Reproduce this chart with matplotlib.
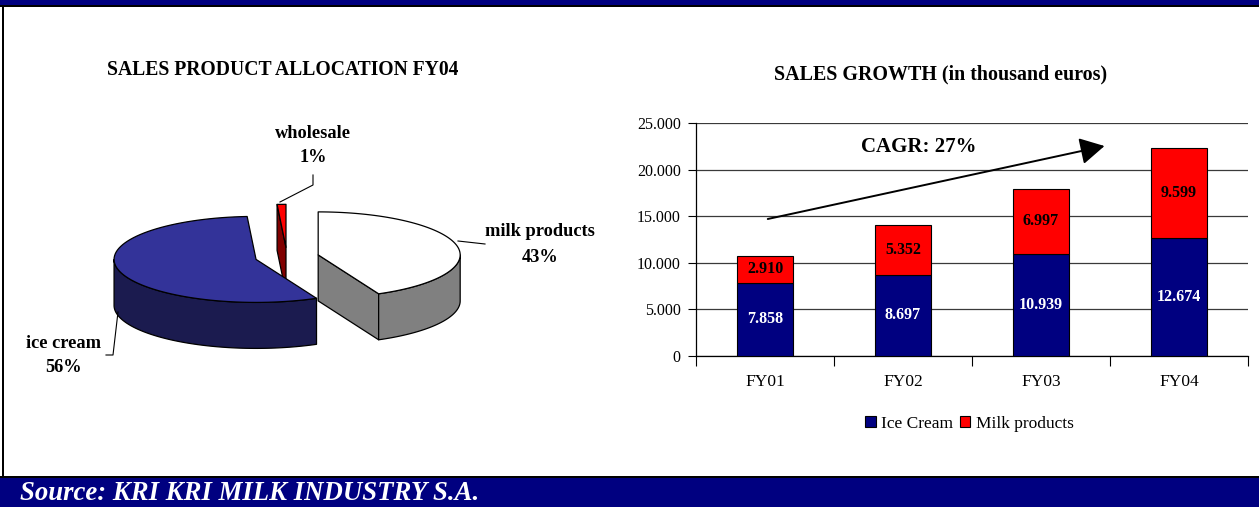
import matplotlib
matplotlib.use('Agg')
import matplotlib.pyplot as plt
import numpy as np
from matplotlib.patches import Polygon, Rectangle
from matplotlib.ticker import FuncFormatter, MultipleLocator, FixedLocator

plt.rcParams['font.family'] = ['Liberation Serif', 'DejaVu Serif']

# ---------------- data ----------------
pie_labels = ['milk products', 'ice cream', 'wholesale']
pie_shares = [43, 56, 1]
pie_top_colors = ['#FFFFFF', '#333399', '#FF0000']
pie_side_colors = ['#808080', '#1B1B4F', '#800000']

years = ['FY01', 'FY02', 'FY03', 'FY04']
ice_cream = [7858, 8697, 10939, 12674]
milk_products = [2910, 5352, 6997, 9599]
series_names = ['Ice Cream', 'Milk products']
cagr_text = 'CAGR: 27%'

left_title = 'SALES PRODUCT ALLOCATION FY04'
right_title = 'SALES GROWTH (in thousand euros)'
source_text = 'Source: KRI KRI MILK INDUSTRY S.A.'

# ---------------- figure ----------------
W, H = 1259, 507
fig = plt.figure(figsize=(W / 100, H / 100), dpi=100)
bg = fig.add_axes([0, 0, 1, 1])
bg.set_xlim(0, W)
bg.set_ylim(H, 0)
bg.axis('off')

NAVY = '#000080'
bg.add_patch(Rectangle((0, 0), W, 4.5, color=NAVY, lw=0))
bg.add_patch(Rectangle((0, 4.5), W, 2, color='black', lw=0))
bg.add_patch(Rectangle((0, 475.5), W, 2.5, color='black', lw=0))
bg.add_patch(Rectangle((0, 478), W, 29, color=NAVY, lw=0))
bg.add_patch(Rectangle((2.5, 5), 2, 472, color='black', lw=0))
bg.text(20, 494, source_text, color='white', fontsize=19.3, fontweight='bold',
        fontstyle='italic', va='center', ha='left')

bg.text(283, 70, left_title, fontsize=14.1, fontweight='bold', ha='center', va='center')
bg.text(941, 74, right_title, fontsize=14.4, fontweight='bold', ha='center', va='center')

# ---------------- 3D exploded pie ----------------
cx0, cy0, ra, rb, depth, expl = 287.0, 257.0, 142.0, 43.0, 46.0, 0.225


def pt(cx, cy, th_deg, dz=0.0):
    t = np.radians(th_deg)
    return (cx + ra * np.cos(t), cy - rb * np.sin(t) + dz)


def arc(cx, cy, t1, t2, dz=0.0, n=80):
    ts = np.linspace(t1, t2, n)
    return [pt(cx, cy, t, dz) for t in ts]


slices = []
start = 90.0
for lab, sh, tc, sc in zip(pie_labels, pie_shares, pie_top_colors, pie_side_colors):
    end = start - sh * 3.6
    th1, th2 = end, start
    mid = np.radians((th1 + th2) / 2)
    cx = cx0 + expl * ra * np.cos(mid)
    cy = cy0 - expl * rb * np.sin(mid)
    slices.append(dict(th1=th1, th2=th2, cx=cx, cy=cy, top=tc, side=sc, order=np.sin(mid)))
    start = end

for s in sorted(slices, key=lambda d: -d['order']):
    cx, cy, th1, th2 = s['cx'], s['cy'], s['th1'], s['th2']
    kw = dict(closed=True, ec='black', lw=0.9, joinstyle='round')
    # radial walls
    if np.cos(np.radians(th1)) > 1e-6:
        bg.add_patch(Polygon([(cx, cy), pt(cx, cy, th1), pt(cx, cy, th1, depth), (cx, cy + depth)],
                             fc=s['side'], **kw))
    if np.cos(np.radians(th2)) < -1e-6:
        bg.add_patch(Polygon([(cx, cy), pt(cx, cy, th2), pt(cx, cy, th2, depth), (cx, cy + depth)],
                             fc=s['side'], **kw))
    # outer (front) wall
    for k in range(-3, 3):
        lo = max(th1, 180 + 360 * k)
        hi = min(th2, 360 + 360 * k)
        if hi > lo:
            poly = arc(cx, cy, lo, hi) + arc(cx, cy, hi, lo, depth)
            bg.add_patch(Polygon(poly, fc=s['side'], **kw))
    # top face
    bg.add_patch(Polygon([(cx, cy)] + arc(cx, cy, th1, th2), fc=s['top'], **kw))

# pie labels
lab_pos = {'milk products': (540, 232), 'ice cream': (64, 343), 'wholesale': (313, 133)}
for lab, sh in zip(pie_labels, pie_shares):
    x0, y0 = lab_pos[lab]
    bg.text(x0, y0, lab, fontsize=13.2, fontweight='bold', ha='center', va='center')
    bg.text(x0, y0 + 25, f'{sh}%', fontsize=13.2, fontweight='bold', ha='center', va='center')

# leader lines
bg.plot([313, 313, 280], [175, 185, 202], color='black', lw=0.8)
bg.plot([458, 485], [241, 244], color='black', lw=0.8)
bg.plot([106, 113, 118], [355, 355, 312], color='black', lw=0.8)

# ---------------- stacked bar chart ----------------
ax = fig.add_axes([696 / W, 1 - 356 / H, 552 / W, 233 / H])
x = np.arange(len(years))
b1 = ax.bar(x, ice_cream, 0.4, color=NAVY, edgecolor='black', lw=0.8,
            label=series_names[0], zorder=3)
b2 = ax.bar(x, milk_products, 0.4, bottom=ice_cream, color='#FF0000', edgecolor='black',
            lw=0.8, label=series_names[1], zorder=3)
ax.set_xlim(-0.5, len(years) - 0.5)
ax.set_ylim(0, 25000)


def thousands(v, p=None):
    return f'{int(round(v)):,}'.replace(',', '.')


ax.yaxis.set_major_locator(MultipleLocator(5000))
ax.yaxis.set_major_formatter(FuncFormatter(thousands))
ax.set_xticks(x, years)
ax.xaxis.set_minor_locator(FixedLocator(np.arange(-0.5, len(years), 1.0)))
ax.tick_params(axis='x', which='major', length=0, pad=13, labelsize=12.5)
ax.tick_params(axis='x', which='minor', length=7, width=0.8, direction='out')
ax.tick_params(axis='y', length=6, width=0.8, pad=5, labelsize=11.5)
ax.grid(axis='y', color='#3a3a3a', lw=0.9, zorder=0)
ax.set_axisbelow(True)
for sp in ['top', 'right']:
    ax.spines[sp].set_visible(False)
for sp in ['left', 'bottom']:
    ax.spines[sp].set_linewidth(0.9)
ax.patch.set_alpha(0)

for i in x:
    ax.text(i, ice_cream[i] / 2, thousands(ice_cream[i]), ha='center', va='center',
            color='white', fontweight='bold', fontsize=11.5, zorder=5)
    ax.text(i, ice_cream[i] + milk_products[i] / 2, thousands(milk_products[i]), ha='center',
            va='center', color='black', fontweight='bold', fontsize=11.5, zorder=5)

ax.text(1.116, 22425, cagr_text, ha='center', va='center', fontsize=15, fontweight='bold', zorder=6)
ax.annotate('', xy=(2.46, 22530), xytext=(0.02, 14700),
            arrowprops=dict(arrowstyle='-|>,head_length=1.0,head_width=0.55', lw=1.4,
                            color='black', mutation_scale=15, shrinkA=0, shrinkB=0),
            zorder=6)

ax.legend(handles=[b1, b2], loc='center', bbox_to_anchor=(969.5 / W, 1 - 423.5 / H),
          bbox_transform=fig.transFigure, ncol=2, frameon=False, fontsize=12.5,
          handlelength=0.6, handleheight=0.6, handletextpad=0.3, columnspacing=0.4,
          borderpad=0)

fig.savefig('out.png', dpi=100)
